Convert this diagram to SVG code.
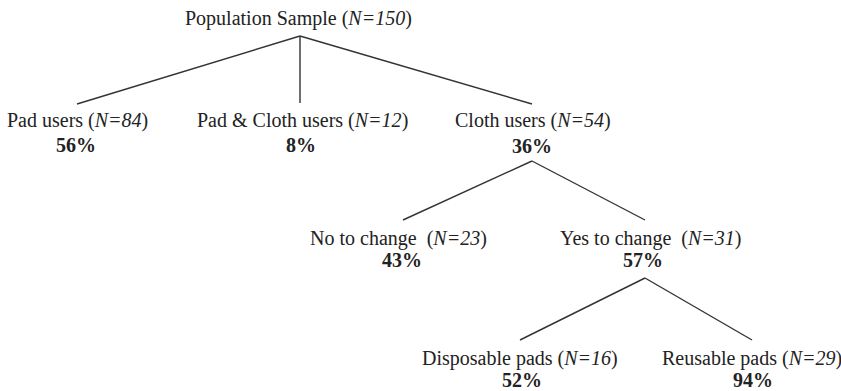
<svg xmlns="http://www.w3.org/2000/svg" width="841" height="391" viewBox="0 0 841 391">
<style>
.t{font-family:"Liberation Serif","Times New Roman",serif;font-size:20px;fill:#222;}
.p{font-family:"Liberation Serif","Times New Roman",serif;font-size:20px;font-weight:bold;fill:#222;text-anchor:middle;}
.i{font-style:italic;}
.c line{stroke:#333;stroke-width:1.4;}
</style>
<rect width="841" height="391" fill="#fff"/>
<g id="connectors" class="c">
<line x1="300" y1="36" x2="77" y2="104"/>
<line x1="300" y1="36" x2="300" y2="103"/>
<line x1="300" y1="36" x2="532" y2="104"/>
<line x1="532" y1="161" x2="403" y2="220"/>
<line x1="532" y1="161" x2="645" y2="220"/>
<line x1="645" y1="278" x2="520" y2="340"/>
<line x1="645" y1="278" x2="752" y2="340"/>
</g>
<g id="root"><text class="t" x="185" y="25">Population Sample (<tspan class="i">N=150</tspan>)</text></g>
<g id="pad"><text class="t" x="7" y="127">Pad users (<tspan class="i">N=84</tspan>)</text><text class="p" x="76" y="152">56%</text></g>
<g id="padcloth"><text class="t" x="197" y="127">Pad &amp; Cloth users (<tspan class="i">N=12</tspan>)</text><text class="p" x="301" y="152">8%</text></g>
<g id="cloth"><text class="t" x="455" y="127">Cloth users (<tspan class="i">N=54</tspan>)</text><text class="p" x="532" y="153">36%</text></g>
<g id="nochange"><text class="t" x="310" y="245" xml:space="preserve">No to change  (<tspan class="i">N=23</tspan>)</text><text class="p" x="402" y="267">43%</text></g>
<g id="yeschange"><text class="t" x="560" y="245" xml:space="preserve">Yes to change  (<tspan class="i">N=31</tspan>)</text><text class="p" x="643" y="267">57%</text></g>
<g id="disposable"><text class="t" x="422" y="365">Disposable pads (<tspan class="i">N=16</tspan>)</text><text class="p" x="522" y="387">52%</text></g>
<g id="reusable"><text class="t" x="662" y="365">Reusable pads (<tspan class="i">N=29</tspan>)</text><text class="p" x="753" y="387">94%</text></g>
</svg>
